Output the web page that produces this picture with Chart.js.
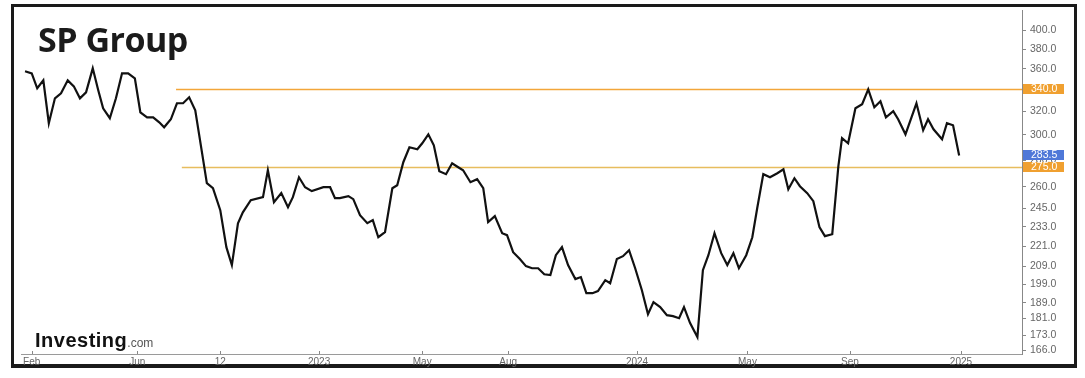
<!DOCTYPE html>
<html>
<head>
<meta charset="utf-8">
<script src="https://cdn.jsdelivr.net/npm/chart.js@4/dist/chart.umd.min.js"></script>
<style>
    body { margin: 0; background: #fff; width: 1085px; height: 378px; overflow: hidden; position: relative; }
    #frame { position: absolute; left: 11px; top: 4px; width: 1060px; height: 357px; border: 3px solid #1a1a1a; border-bottom-width: 4px; }
    #chart { position: absolute; left: 0; top: 0; }
    #title { position: absolute; left: 38px; top: 22px; font: bold 34px "Open Sans", sans-serif; line-height: 34px; color: #1b1b1b; letter-spacing: -0.5px; }
    #logo { position: absolute; left: 35px; top: 330px; font: bold 20px "Liberation Sans", Arial, sans-serif; line-height: 20px; color: #111; letter-spacing: 0.5px; }
    #logo span { font-weight: normal; font-size: 12px; color: #555; letter-spacing: 0; }
</style>
</head>
<body>
<div id="frame"></div>
<canvas id="chart" width="1085" height="378"></canvas>
<div id="title">SP Group</div>
<div id="logo">Investing<span>.com</span></div>
<script>
// weekly closes, x = weeks since start of Feb 2022
const weeks = [
    0.0, 1.1, 2.0, 3.0, 3.9, 4.9, 5.9, 7.0, 8.0, 9.0, 10.0, 11.1, 12.0, 12.8, 13.9, 14.9,
    15.9, 16.9, 18.0, 18.9, 20.0, 21.0, 22.0, 22.8, 23.9, 24.9, 25.9, 26.9, 27.9, 29.0,
    29.8, 30.8, 32.0, 33.0, 33.9, 34.9, 35.7, 37.0, 39.0, 39.8, 40.8, 42.0, 43.1, 43.9,
    44.9, 45.9, 47.0, 48.9, 50.0, 50.8, 51.6, 53.0, 53.8, 54.9, 56.1, 57.0, 57.9, 59.0,
    60.2, 61.0, 62.0, 63.0, 64.3, 65.1, 66.1, 67.0, 67.9, 69.0, 70.0, 71.0, 71.8, 73.0,
    74.1, 75.1, 75.9, 77.0, 78.2, 79.0, 80.0, 81.1, 82.1, 83.1, 84.1, 85.1, 86.1, 87.0,
    88.0, 89.0, 90.2, 91.1, 92.0, 93.0, 93.9, 95.1, 95.9, 97.0, 98.0, 99.0, 100.0, 101.1,
    102.1, 103.0, 104.1, 105.2, 106.2, 107.2, 108.0, 109.0, 110.2, 111.1, 112.0, 113.0,
    114.1, 115.1, 116.1, 117.0, 118.2, 119.2, 120.0, 121.0, 122.1, 123.3, 124.3, 125.1,
    126.1, 127.0, 128.2, 129.2, 130.2, 131.1, 132.3, 133.3, 133.9, 134.9, 136.1, 137.2,
    138.2, 139.2, 140.2, 141.1, 142.3, 143.1, 144.3, 146.1, 147.2, 148.0, 148.9, 150.3,
    151.1, 152.1, 153.1
];
const prices = [
    357.4, 355.4, 341.1, 348.6, 309.8, 331.8, 336.4, 348.6, 342.9, 331.8, 337.3, 360.3, 339.2, 322.8, 314.1, 331.8,
    355.4, 355.4, 350.6, 319.3, 314.9, 314.9, 310.6, 306.4, 313.2, 327.3, 327.3, 332.7, 321.0, 286.0,
    262.7, 259.1, 243.9, 220.3, 209.7, 235.3, 242.5, 250.7, 252.8, 272.2, 249.3, 255.6, 245.9, 252.8,
    267.0, 259.8, 257.0, 259.8, 259.8, 252.1, 252.1, 253.5, 251.4, 240.6, 235.3, 237.3, 226.4, 229.6,
    259.1, 261.2, 278.3, 290.0, 288.4, 293.2, 300.5, 291.6, 271.5, 269.3, 277.5, 274.5, 272.2, 263.4,
    265.6, 259.1, 236.0, 239.9, 228.9, 227.7, 217.3, 213.2, 209.1, 207.9, 207.9, 204.5, 204.0, 215.5,
    220.3, 209.7, 201.8, 202.9, 194.1, 194.1, 195.2, 201.2, 199.5, 213.2, 214.9, 218.5, 207.9, 195.7,
    183.2, 189.4, 186.8, 182.7, 182.2, 181.2, 186.8, 178.8, 172.0, 206.8, 215.5, 228.9,
    216.7, 209.7, 216.7, 207.9, 215.5, 226.4, 245.2, 269.3, 267.0, 270.0, 273.0, 258.4,
    266.3, 260.5, 255.6, 250.0, 232.8, 227.1, 228.3, 275.2, 297.3, 293.2, 322.8, 326.4,
    340.1, 323.7, 329.1, 314.9, 320.2, 313.2, 300.5, 327.3, 303.9, 313.2, 304.7, 296.4,
    309.8, 308.1, 283.5
];

const xTickPos = [1.1, 18.4, 32.0, 48.2, 65.1, 79.2, 100.3, 118.4, 135.2, 153.4];
const xTickLabels = ["Feb", "Jun", "12", "2023", "May", "Aug", "2024", "May", "Sep", "2025"];
const yTicks = [400, 380, 360, 340, 320, 300, 280, 260, 245, 233, 221, 209, 199, 189, 181, 173, 166];

// horizontal levels and price badges
const levelValues = [340, 275];
const levelStart = [24.75, 25.7];
const levelColors = ["#f3a63a", "#e7bd5e"];
const badgeValues = [340, 283.5, 275];
const badgeColors = ["#f0a030", "#4f78d8", "#f0a030"];

const labelFont = { family: "'Liberation Sans', Arial, sans-serif", size: 10 };

const levelsPlugin = {
    id: "levels",
    beforeDatasetsDraw(chart) {
        const { ctx, chartArea, scales: { x, y } } = chart;
        ctx.save();
        ctx.lineWidth = 1.5;
        levelValues.forEach((v, i) => {
            const py = Math.round(y.getPixelForValue(v)) + 0.5;
            ctx.strokeStyle = levelColors[i];
            ctx.beginPath();
            ctx.moveTo(x.getPixelForValue(levelStart[i]), py);
            ctx.lineTo(chartArea.right, py);
            ctx.stroke();
        });
        // small tick marks on the time axis
        ctx.strokeStyle = "#888";
        ctx.lineWidth = 1;
        xTickPos.forEach(v => {
            const px = Math.round(x.getPixelForValue(v)) + 0.5;
            ctx.beginPath();
            ctx.moveTo(px, chartArea.bottom);
            ctx.lineTo(px, chartArea.bottom - 3);
            ctx.stroke();
        });
        ctx.restore();
    },
    afterDraw(chart) {
        const { ctx, chartArea, scales: { y } } = chart;
        ctx.save();
        ctx.font = "10.5px 'Liberation Sans', Arial, sans-serif";
        ctx.textBaseline = "middle";
        ctx.textAlign = "left";
        badgeValues.forEach((v, i) => {
            const py = Math.round(y.getPixelForValue(v));
            ctx.fillStyle = badgeColors[i];
            ctx.fillRect(chartArea.right + 1, py - 5, 41, 10);
            ctx.fillStyle = "#fff";
            ctx.fillText(v.toFixed(1), chartArea.right + 9, py + 0.5);
        });
        ctx.restore();
    }
};

new Chart(document.getElementById("chart").getContext("2d"), {
    type: "line",
    data: {
        datasets: [{
            data: weeks.map((w, i) => ({ x: w, y: prices[i] })),
            borderColor: "#111",
            borderWidth: 2.2,
            pointRadius: 0,
            tension: 0,
            fill: false
        }]
    },
    options: {
        responsive: false,
        animation: false,
        layout: { padding: { left: 21, top: 10, right: 0, bottom: 0 } },
        plugins: { legend: { display: false }, tooltip: { enabled: false } },
        scales: {
            x: {
                type: "linear",
                min: -0.66,
                max: 163.4,
                bounds: "data",
                afterBuildTicks: s => { s.ticks = xTickPos.map(v => ({ value: v })); },
                afterFit: s => { s.height = 24; },
                grid: { display: false, drawTicks: false },
                border: { display: true, color: "#9a9a9a", width: 1 },
                ticks: {
                    autoSkip: false,
                    maxRotation: 0,
                    padding: 2,
                    color: "#666",
                    font: labelFont,
                    callback: (v, i) => xTickLabels[i]
                }
            },
            y: {
                type: "logarithmic",
                position: "right",
                min: 164.2,
                max: 422.7,
                bounds: "data",
                afterBuildTicks: s => { s.ticks = yTicks.map(v => ({ value: v })); },
                afterFit: s => { s.width = 63; },
                grid: { display: true, drawOnChartArea: false, drawTicks: true, tickLength: 4, color: "#888" },
                border: { display: true, color: "#888", width: 1 },
                ticks: {
                    autoSkip: false,
                    padding: 4,
                    color: "#666",
                    font: { family: "'Liberation Sans', Arial, sans-serif", size: 10.5 },
                    callback: v => Number(v).toFixed(1)
                }
            }
        }
    },
    plugins: [levelsPlugin]
});
</script>
</body>
</html>
